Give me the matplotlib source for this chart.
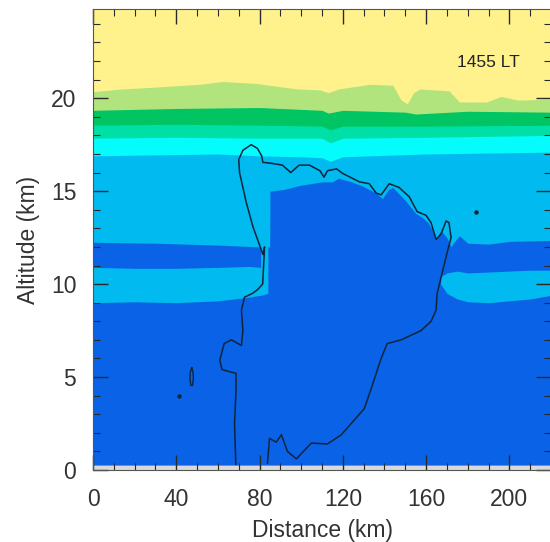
import matplotlib
matplotlib.use("Agg")
import matplotlib.pyplot as plt
from matplotlib.ticker import MultipleLocator

plt.rcParams["font.family"] = ["Liberation Sans", "DejaVu Sans"]

# ---------------------------------------------------------------------------
# Layer boundaries (distance km -> altitude km)
# ---------------------------------------------------------------------------
LG_X = [0, 14, 30, 51, 62, 78, 98, 109, 113, 118, 133, 144, 148, 151, 154, 157,
        171, 176, 189, 196, 204, 220]
LG_TOP = [20.35, 20.5, 20.6, 20.75, 20.9, 20.8, 20.5, 20.45, 20.3, 20.5, 20.75,
          20.7, 19.9, 19.7, 20.3, 20.5, 20.4, 19.8, 19.8, 20.1, 19.9, 19.95]

G_X = [0, 40, 80, 110, 113, 120, 150, 155, 180, 220]
G_TOP = [19.35, 19.45, 19.5, 19.35, 19.2, 19.35, 19.25, 19.15, 19.3, 19.25]

M_X = [0, 40, 80, 110, 114, 120, 160, 220]
M_TOP = [18.55, 18.6, 18.55, 18.5, 18.3, 18.5, 18.5, 18.55]

C_X = [0, 40, 80, 110, 114, 120, 160, 220]
C_TOP = [17.85, 17.9, 17.85, 17.85, 17.6, 17.85, 17.9, 18.0]

S_X = [0, 30, 60, 80, 100, 110, 114, 120, 160, 190, 220]
S_TOP = [16.9, 16.95, 17.0, 16.9, 16.85, 16.8, 16.6, 16.85, 17.0, 17.05, 17.1]

B_X = [0, 30, 60, 80, 84.9, 85, 92, 99, 110, 115, 118, 124, 129, 136, 139, 142,
       144, 150, 155, 158, 161, 164, 165, 167, 170, 172, 173, 176, 180, 190, 200, 220]
B_TOP = [12.25, 12.2, 12.1, 12.0, 12.0, 15.0, 15.1, 15.3, 15.5, 15.5, 15.7, 15.5,
         15.3, 14.9, 14.6, 15.1, 15.2, 14.5, 13.8, 13.6, 13.3, 12.7, 12.4, 12.9,
         12.5, 12.0, 12.2, 12.6, 12.2, 12.15, 12.3, 12.35]

# lower light-blue layer, west and east of the storm
SL_X = [0, 20, 40, 60, 75, 80.5, 80.6, 84]
SL_LO = [9.0, 9.05, 9.0, 9.1, 9.3, 9.4, 9.4, 9.5]
SL_HI = [10.9, 10.85, 10.85, 10.9, 10.95, 10.9, 12.1, 12.1]

SR_X = [167, 170, 175, 180, 190, 200, 210, 220]
SR_LO = [10.0, 9.5, 9.2, 9.05, 9.0, 9.1, 9.2, 9.4]
SR_HI = [10.4, 10.6, 10.7, 10.6, 10.65, 10.7, 10.75, 10.75]

# cloud outline contour
OUT_X = [68.6, 68.0, 68.7, 68.7, 62.0, 60.9, 63.0, 66.5, 71.3, 72.0, 71.3, 72.8,
         76.6, 79.0, 81.5, 82.4, 81.6, 76.8, 73.6, 70.4, 70.0, 72.0, 76.0, 79.0,
         81.0, 81.6, 85.6, 91.0, 95.0, 99.0, 104.0, 109.0, 111.0, 112.6, 117.0,
         120.0, 128.0, 132.7, 136.0, 138.4, 142.3, 147.0, 151.9, 155.7, 160.0,
         162.4, 164.8, 167.2, 169.6, 171.0, 172.0, 170.0, 167.7, 165.3, 164.8,
         162.4, 157.6, 148.0, 141.3, 138.4, 133.7, 130.3, 119.3, 112.6, 104.9,
         97.7, 93.4, 90.5, 88.0, 84.8, 83.8]
OUT_Y = [0.3, 2.5, 4.3, 5.2, 5.4, 5.9, 6.8, 7.0, 6.7, 7.5, 8.6, 9.3,
         9.5, 9.7, 10.0, 12.0, 11.6, 13.1, 14.4, 16.0, 16.7, 17.2, 17.5, 17.3,
         16.9, 16.55, 16.5, 16.4, 16.0, 16.4, 16.4, 16.1, 15.75, 16.1, 16.2,
         15.95, 15.5, 15.4, 14.9, 14.8, 15.4, 15.2, 14.7, 13.9, 13.7,
         13.3, 12.4, 12.7, 13.4, 13.3, 12.5, 11.65, 10.6, 9.5, 8.6,
         8.0, 7.5, 7.0, 6.8, 6.0, 4.4, 3.3, 1.9, 1.4, 1.45,
         0.6, 1.0, 1.9, 1.5, 1.7, 0.37]

BLOB_X = [47.4, 48.1, 48.2, 47.8, 47.0, 46.6, 46.7, 47.4]
BLOB_Y = [5.5, 5.25, 4.9, 4.55, 4.55, 4.9, 5.25, 5.5]
DOT_X = [41.3, 184.0]
DOT_Y = [4.0, 13.9]

BASE = 0.28
TOP = 24.8

C_YELLOW = "#fff28c"
C_LGREEN = "#b2e47e"
C_GREEN = "#00c562"
C_MINT = "#00dfa5"
C_CYAN = "#05fcfc"
C_SKY = "#00baf0"
C_BLUE = "#0a62e6"
LINE = "#10243a"

fig = plt.figure(figsize=(5.5, 5.42), dpi=100)
ax = fig.add_axes([93 / 550, 72 / 542, 458 / 550, 461 / 542])
ax.set_facecolor("#d9d9d9")

ax.fill_between([0, 220], BASE, TOP, color=C_YELLOW, lw=0)
ax.fill_between(LG_X, BASE, LG_TOP, color=C_LGREEN, lw=0)
ax.fill_between(G_X, BASE, G_TOP, color=C_GREEN, lw=0)
ax.fill_between(M_X, BASE, M_TOP, color=C_MINT, lw=0)
ax.fill_between(C_X, BASE, C_TOP, color=C_CYAN, lw=0)
ax.fill_between(S_X, BASE, S_TOP, color=C_SKY, lw=0)
ax.fill_between(B_X, BASE, B_TOP, color=C_BLUE, lw=0)
ax.fill_between(SL_X, SL_LO, SL_HI, color=C_SKY, lw=0)
ax.fill_between(SR_X, SR_LO, SR_HI, color=C_SKY, lw=0)

ax.plot(OUT_X, OUT_Y, color=LINE, lw=1.1)
ax.plot(BLOB_X, BLOB_Y, color=LINE, lw=1.0)
ax.plot(DOT_X, DOT_Y, "o", color=LINE, ms=2.2, ls="none")

ax.text(190, 21.9, "1455 LT", fontsize=12.5, ha="center", va="center", color="#222222")

ax.set_xlim(0, 220)
ax.set_ylim(0, TOP)
ax.xaxis.set_major_locator(MultipleLocator(40))
ax.xaxis.set_minor_locator(MultipleLocator(10))
ax.yaxis.set_major_locator(MultipleLocator(5))
ax.yaxis.set_minor_locator(MultipleLocator(1))
ax.tick_params(which="both", direction="in", top=True, right=True, color="#2a2a2a")
ax.tick_params(which="major", length=11, width=1.0, labelsize=16.5, labelcolor="#333333")
ax.tick_params(axis="x", which="major", pad=13)
ax.tick_params(axis="y", which="major", pad=12)
ax.tick_params(which="minor", length=5, width=0.8)
for sp in ax.spines.values():
    sp.set_color("#555555")
    sp.set_linewidth(0.8)

ax.set_xlabel("Distance (km)", fontsize=16.5, color="#333333", labelpad=6)
ax.set_ylabel("Altitude (km)", fontsize=16.5, color="#333333", labelpad=8)

fig.savefig("out.png", dpi=100)
